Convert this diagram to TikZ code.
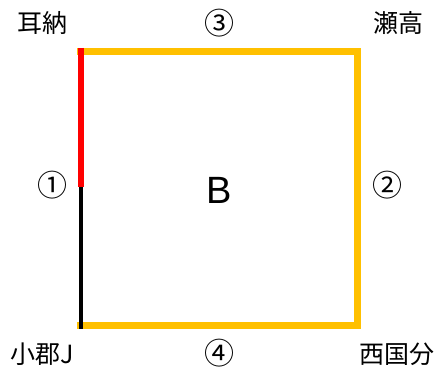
\documentclass[tikz,border=0pt]{standalone}
\usepackage{fontspec}
\setmainfont{Liberation Sans}
\newfontfamily\jpfont{Noto Sans CJK JP}
\usetikzlibrary{positioning}
\definecolor{cRoute}{RGB}{255,192,0}
\definecolor{cRed}{RGB}{255,0,0}
\tikzset{
	station/.style={inner sep=0pt, font=\jpfont\fontsize{25}{28}\selectfont},
	secno/.style  ={inner sep=0pt, font=\jpfont\fontsize{30}{32}\selectfont},
	area/.style   ={inner sep=0pt, font=\fontsize{38}{40}\selectfont},
	road/.style   ={line width=7pt, draw=cRoute, line cap=rect, line join=miter},
}

\begin{document}
\begin{tikzpicture}[x=1pt, y=-1pt]
	\useasboundingbox (0,0) rectangle (442,369);
	% corners of the block
	\coordinate (nw) at (80.5,51.5);
	\coordinate (ne) at (357.5,51.5);
	\coordinate (se) at (357.5,325.5);
	\coordinate (sw) at (80.5,325.5);
	\coordinate (mid) at (80.5,187);
	\draw[road] (nw) -- (ne) -- (se) -- (sw);
	\draw[line width=6pt, cRed] ([yshift=3.5pt]nw) -- (mid);
	\draw[line width=4pt, black] (mid) -- ([yshift=-3.5pt]sw);
	% labels
	\node[station] (minou) at (42,23) {耳納};
	\node[station] (setaka) at (398,23) {瀬高};
	\node[station] (ogori) at (42,354) {小郡J};
	\node[station] (nishi) at (397,354) {西国分};
	\node[secno] (s1) at (52,185) {①};
	\node[secno] (s2) at (387,185) {②};
	\node[secno] (s3) at (219,23) {③};
	\node[secno] (s4) at (219,353) {④};
	\node[area] (blk) at (219,190) {B};
\end{tikzpicture}
\end{document}
